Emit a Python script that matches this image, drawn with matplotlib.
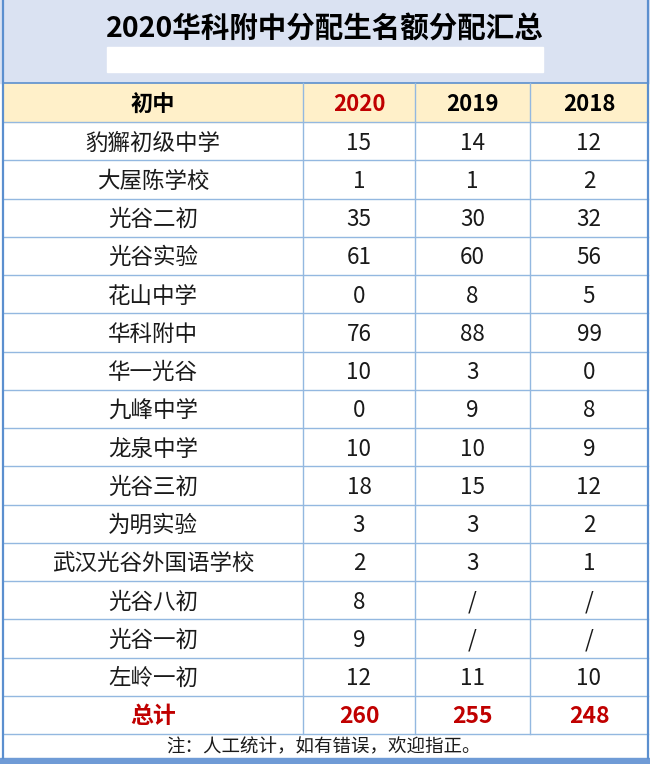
import matplotlib.pyplot as plt
from matplotlib.patches import Rectangle

plt.rcParams['font.family'] = ['Noto Sans CJK SC', 'DejaVu Sans']

title = "2020华科附中分配生名额分配汇总"
header = ["初中", "2020", "2019", "2018"]
schools = ["豹獬初级中学", "大屋陈学校", "光谷二初", "光谷实验", "花山中学",
           "华科附中", "华一光谷", "九峰中学", "龙泉中学", "光谷三初",
           "为明实验", "武汉光谷外国语学校", "光谷八初", "光谷一初", "左岭一初"]
y2020 = ["15", "1", "35", "61", "0", "76", "10", "0", "10", "18", "3", "2", "8", "9", "12"]
y2019 = ["14", "1", "30", "60", "8", "88", "3", "9", "10", "15", "3", "3", "/", "/", "11"]
y2018 = ["12", "2", "32", "56", "5", "99", "0", "8", "9", "12", "2", "1", "/", "/", "10"]
total_label = "总计"
totals = ["260", "255", "248"]
note = "注：人工统计，如有错误，欢迎指正。"

W, H = 650, 764
fig = plt.figure(figsize=(W / 100, H / 100), dpi=100)
ax = fig.add_axes([0, 0, 1, 1])
ax.set_xlim(0, W)
ax.set_ylim(H, 0)
ax.axis('off')

red = '#c00000'
grid = '#93b8e0'
border = '#5b8fcf'
ink = '#1a1a1a'

xs = [3, 303, 415, 530, 648]
centers = [(xs[i] + xs[i + 1]) / 2 for i in range(4)]
top_head, bot_head = 83, 122
row_h = 38.25
n_rows = len(schools) + 1
bot_table = bot_head + row_h * n_rows
bot_note = 758
dy = 2  # text sits a little low in the cells

# backgrounds
ax.add_patch(Rectangle((0, 0), W, top_head, color='#dae2f2', zorder=0))
ax.add_patch(Rectangle((107, 47), 436, 25, color='white', zorder=1))
ax.add_patch(Rectangle((xs[0], top_head), xs[-1] - xs[0], bot_head - top_head,
                       color='#fff0c9', zorder=0))
ax.add_patch(Rectangle((0, bot_note), W, H - bot_note, color='#6f9bd6', zorder=0))

ax.text(W / 2, 29, title, ha='center', va='center', fontsize=20.5,
        fontweight='bold', color='black')

# grid lines
ax.plot([xs[0], xs[-1]], [top_head, top_head], color=border, lw=1.2)
ax.plot([xs[0], xs[-1]], [bot_head, bot_head], color=grid, lw=1)
for i in range(n_rows):
    y = bot_head + row_h * (i + 1)
    ax.plot([xs[0], xs[-1]], [y, y], color=grid, lw=1)
for x in xs[1:-1]:
    ax.plot([x, x], [top_head, bot_table], color=grid, lw=1)
ax.plot([xs[0], xs[0]], [0, bot_note], color=border, lw=1.6)
ax.plot([xs[-1], xs[-1]], [0, bot_note], color=border, lw=1.6)

# header
yc = (top_head + bot_head) / 2 + dy
for j, h in enumerate(header):
    ax.text(centers[j], yc, h, ha='center', va='center', fontsize=16,
            fontweight='bold', color=red if h == "2020" else 'black')

# body
for i, name in enumerate(schools):
    yc = bot_head + row_h * (i + 0.5) + dy
    vals = [name, y2020[i], y2019[i], y2018[i]]
    for j, v in enumerate(vals):
        ax.text(centers[j], yc, v, ha='center', va='center', fontsize=16.2,
                color=ink)

yc = bot_head + row_h * (n_rows - 0.5) + dy
for j, v in enumerate([total_label] + totals):
    ax.text(centers[j], yc, v, ha='center', va='center', fontsize=16.5,
            fontweight='bold', color=red)

ax.text(W / 2 - 2, (bot_table + bot_note) / 2 + 1, note, ha='center',
        va='center', fontsize=13.3, color=ink)

fig.savefig('out.png', dpi=100)
